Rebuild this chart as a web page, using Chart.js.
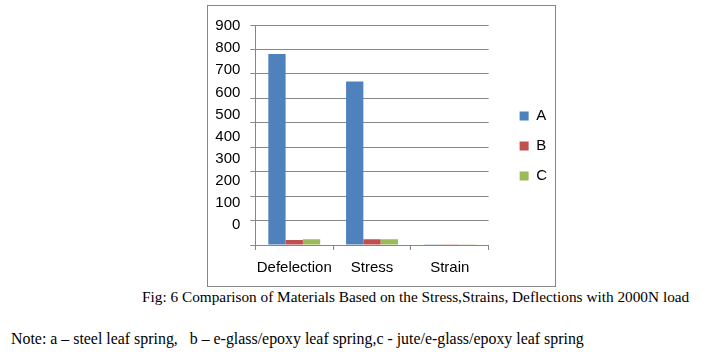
<!DOCTYPE html>
<html lang="en">
<head>
  <meta charset="UTF-8">
  <title>Fig 6 - Comparison of Materials</title>
  <script src="https://cdn.jsdelivr.net/npm/chart.js"></script>
  <style>
    body { margin: 0; background: #fff; width: 719px; height: 361px; position: relative; overflow: hidden; }
    .chart-box { position: absolute; left: 207px; top: 5px; width: 347px; height: 280px; border: 1px solid #868686; }
    .caption { position: absolute; left: 142px; top: 289px; font-family: "Liberation Serif", serif; font-size: 15.3px; line-height: 15px; white-space: nowrap; color: #000; }
    .note { position: absolute; left: 11px; top: 331px; font-family: "Liberation Serif", serif; font-size: 15.9px; line-height: 15px; white-space: pre; color: #000; }
  </style>
</head>
<body>

  <div class="chart-box">
    <canvas id="chart" width="347" height="280"></canvas>
  </div>

  <div class="caption">Fig: 6 Comparison of Materials Based on the Stress,Strains, Deflections with 2000N load</div>
  <div class="note">Note: a – steel leaf spring,   b – e-glass/epoxy leaf spring,c - jute/e-glass/epoxy leaf spring</div>

<script>

// values
const categories = ['Defelection', 'Stress', 'Strain'];
const seriesA = [781, 669, 1];
const seriesB = [20, 24, 1];
const seriesC = [24, 24, 1];
const yTicks = [0, 100, 200, 300, 400, 500, 600, 700, 800, 900];

const fontName = '"Liberation Sans", Arial, sans-serif';
const gridColor = '#868686';

Chart.defaults.font.family = fontName;
Chart.defaults.color = '#000';

const data = {
  labels: categories,
  datasets: [
    { label: 'A', data: seriesA, backgroundColor: '#4F81BD', yAxisID: 'y' },
    { label: 'B', data: seriesB, backgroundColor: '#C0504D', yAxisID: 'y' },
    { label: 'C', data: seriesC, backgroundColor: '#9BBB59', yAxisID: 'y' }
  ]
};

// empty axis used only to reserve space
const spacer = (side, size) => ({
  position: side,
  ticks: { display: false },
  grid: { display: false, drawTicks: false },
  border: { display: false },
  afterFit: (scale) => {
    if (side === 'top') scale.height = size; else scale.width = size;
  }
});

const config = {
  type: 'bar',
  data: data,
  options: {
    responsive: false,
    animation: false,
    barPercentage: 1,
    categoryPercentage: 0.667,
    layout: { padding: { left: 0, right: 8, top: 0, bottom: 0 } },
    plugins: {
      legend: {
        position: 'right',
        labels: {
          boxWidth: 9,
          boxHeight: 9,
          padding: 15,
          font: { size: 15 },
          color: '#000'
        }
      },
      tooltip: { enabled: false }
    },
    scales: {
      x: {
        grid: { display: true, drawOnChartArea: false, offset: true, tickLength: 5, color: gridColor },
        border: { color: gridColor },
        ticks: { font: { size: 15 }, padding: 9, maxRotation: 0, minRotation: 0, autoSkip: false }
      },
      // axis that draws the gridlines
      y: {
        position: 'left',
        weight: 0,
        min: 0,
        max: 900,
        ticks: { display: false, stepSize: 100 },
        grid: { color: gridColor, tickLength: 5 },
        border: { color: gridColor }
      },
      // axis that carries the labels (they sit a little off the gridlines in the original)
      yLabels: {
        position: 'left',
        weight: 1,
        min: -90,
        max: 905,
        afterBuildTicks: (scale) => { scale.ticks = yTicks.map(v => ({ value: v })); },
        ticks: { font: { size: 15 }, padding: 10 },
        grid: { display: false, drawTicks: false },
        border: { display: false }
      },
      gapTop: spacer('top', 17),
      gapRight: spacer('right', 16)
    }
  }
};

const myChart = new Chart(document.getElementById('chart'), config);

</script>
</body>
</html>
